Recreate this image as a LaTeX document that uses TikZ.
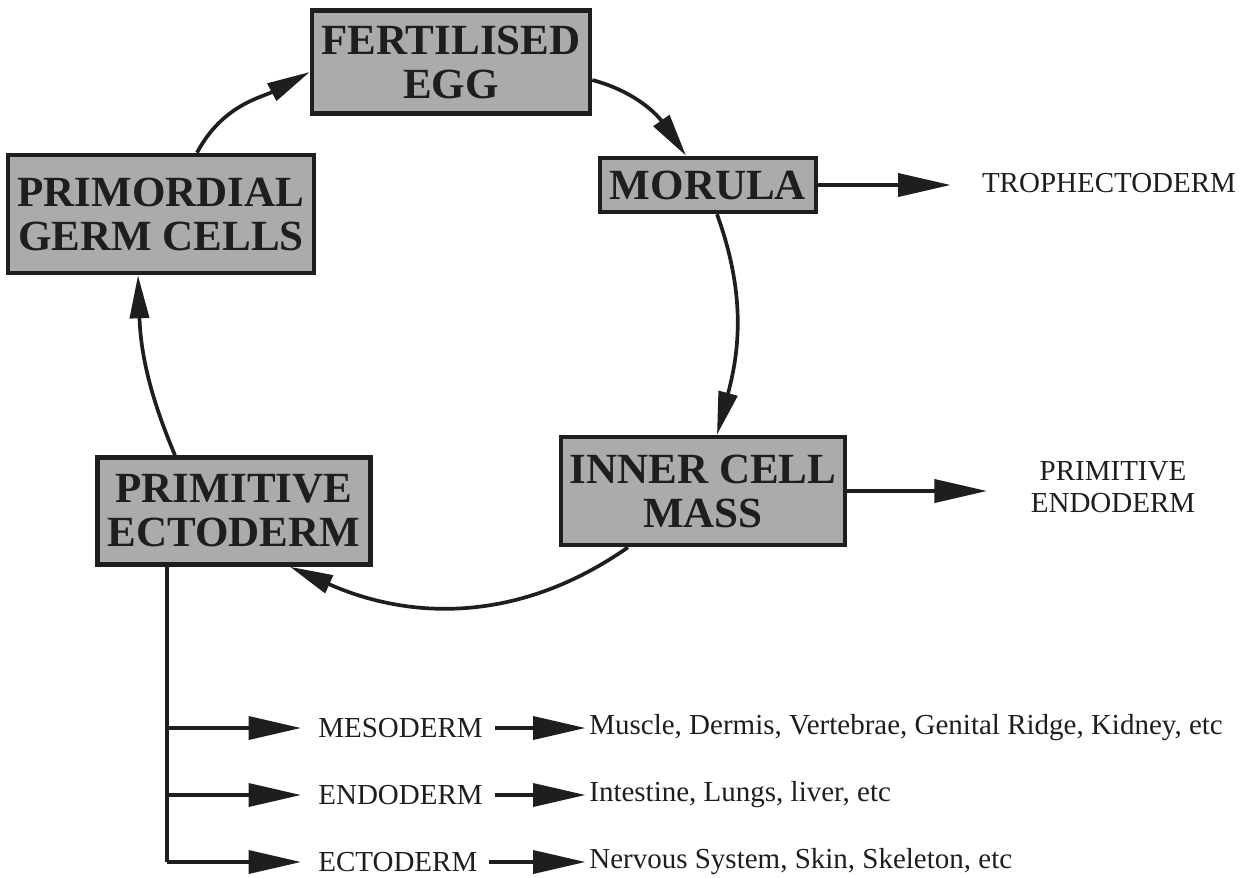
\documentclass[tikz,border=0pt]{standalone}
\usepackage{fontspec}
\setmainfont{Liberation Serif}
\usepackage{tikz}
\usetikzlibrary{arrows.meta,positioning,calc}
\definecolor{boxgray}{HTML}{ABABAB}
\definecolor{inkblack}{HTML}{1E1E1E}

\begin{document}
\begin{tikzpicture}[
  every node/.style={align=center,inner sep=2pt,text=inkblack},
  stage/.style={draw=inkblack,fill=boxgray,line width=2.6pt,font=\fontsize{24.5}{25}\selectfont\bfseries,inner sep=0pt},
  fate/.style={font=\fontsize{16.5}{18}\selectfont},
  tissue/.style={fate,anchor=west},
  flow/.style={-{Triangle[length=1.05cm,width=0.46cm]},draw=inkblack,line width=2.1pt},
  cycle/.style={flow,-{Triangle[length=0.86cm,width=0.38cm]}}
]
  \useasboundingbox (0,0) rectangle (25,-17.54);
  % the cycle
  \node[stage,minimum width=5.56cm,minimum height=2.06cm] (egg) at (9.02,-1.24) {FERTILISED\\EGG};
  \node[stage,minimum width=6.12cm,minimum height=2.36cm] (pgc) at (3.22,-4.28) {PRIMORDIAL\\GERM CELLS};
  \node[stage,minimum width=4.32cm,minimum height=1.08cm] (morula) at (14.16,-3.70) {MORULA};
  \node[stage,minimum width=5.68cm,minimum height=2.16cm] (icm) at (14.06,-9.82) {INNER CELL\\MASS};
  \node[stage,minimum width=5.46cm,minimum height=2.14cm] (pecto) at (4.68,-10.22) {PRIMITIVE\\ECTODERM};
  \node[fate] (troph) at (22.18,-3.66) {TROPHECTODERM};
  \node[fate] (pendo) at (22.26,-9.74) {PRIMITIVE\\ENDODERM};
  \draw[cycle] ([xshift=0.72cm]pgc.north) to[out=62,in=208] ([yshift=-0.2cm]egg.west);
  \draw[cycle] ([yshift=-0.36cm]egg.east) to[out=-15,in=125] ([xshift=-0.44cm]morula.north);
  \draw[cycle] ([xshift=0.18cm]morula.south) to[out=-70,in=75] ([xshift=0.28cm]icm.north);
  \draw[cycle] ([xshift=-1.50cm]icm.south) to[out=-145,in=-24] ([xshift=1.12cm]pecto.south);
  \draw[cycle] ([xshift=-1.18cm]pecto.north) to[out=113,in=-88] ([xshift=-0.46cm]pgc.south);
  \draw[flow,shorten >=0.55cm] (morula.east) -- (morula.east -| troph.west);
  \draw[flow,shorten >=0.8cm] (icm.east) -- (icm.east -| pendo.west);
  % germ layers
  \coordinate (trunk) at (3.34,-17.24);
  \node[tissue] (meso) at (6.29,-14.56) {MESODERM};
  \node[tissue] (endo) at (6.29,-15.90) {ENDODERM};
  \node[tissue] (ecto) at (6.29,-17.24) {ECTODERM};
  \node[tissue] (mesot) at (11.71,-14.56) {Muscle, Dermis, Vertebrae, Genital Ridge, Kidney, etc};
  \node[tissue] (endot) at (11.71,-15.90) {Intestine, Lungs, liver, etc};
  \node[tissue] (ectot) at (11.71,-17.24) {Nervous System, Skin, Skeleton, etc};
  \draw[draw=inkblack,line width=2.1pt] (pecto.south -| trunk) -- (trunk);
  \foreach \g in {meso,endo,ecto}
    \draw[flow,shorten >=0.27cm] (\g -| trunk) -- (\g.west);
  \draw[flow,shorten <=0.16cm] (meso.east) -- (mesot.west);
  \draw[flow,shorten <=0.16cm] (endo.east) -- (endot.west);
  \draw[flow,shorten <=0.16cm] (ecto.east) -- (ectot.west);
\end{tikzpicture}
\end{document}
